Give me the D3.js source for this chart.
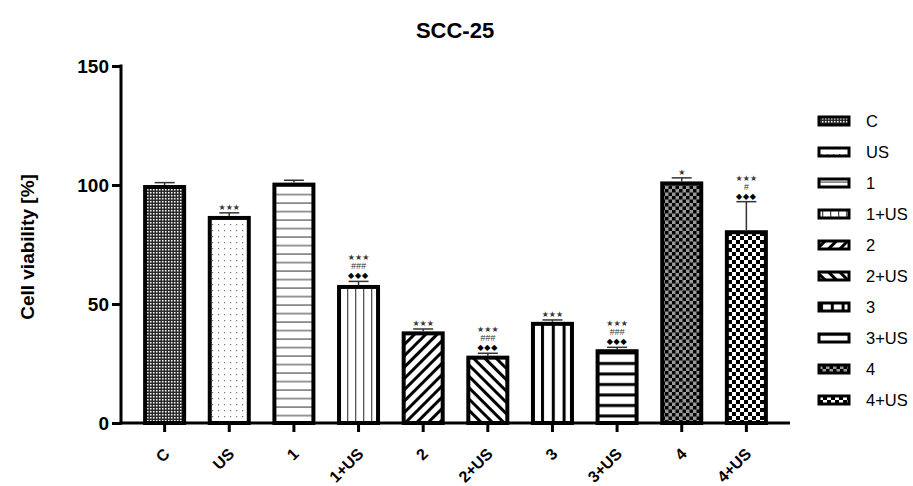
<!DOCTYPE html>
<html>
<head>
<meta charset="utf-8">
<script src="https://cdn.jsdelivr.net/npm/d3@7"></script>
<style>
  body { margin: 0; background: #fff; }
  text { font-family: "Liberation Sans", Arial, sans-serif; }
</style>
</head>
<body>
<div id="chart"></div>
<script>
// data
const groups = ["C", "US", "1", "1+US", "2", "2+US", "3", "3+US", "4", "4+US"];
const viability = [100, 87, 101, 58, 38.5, 28.3, 42.5, 31, 101.5, 81];
const sdValues = [1, 1.3, 1, 1.5, 1, 1, 0.8, 0.8, 1.5, 12];
const starMarks = ["", "***", "", "***", "***", "***", "***", "***", "*", "***"];
const hashMarks = ["", "", "", "###", "", "###", "", "###", "", "#"];
const diamondMarks = ["", "", "", "\u25C6\u25C6\u25C6", "", "\u25C6\u25C6\u25C6", "", "\u25C6\u25C6\u25C6", "", "\u25C6\u25C6\u25C6"];
const yTicks = [0, 50, 100, 150];

const W = 913, H = 486;
const svg = d3.select("#chart").append("svg")
    .attr("width", W)
    .attr("height", H);

// patterns, one per group
const defs = svg.append("defs");
function pat(id, w, h, transform) {
    const p = defs.append("pattern")
        .attr("id", id)
        .attr("patternUnits", "userSpaceOnUse")
        .attr("width", w)
        .attr("height", h);
    if (transform) p.attr("patternTransform", transform);
    return p;
}

// C: dense dark checker
let p = pat("p0", 3, 3);
p.append("rect").attr("width", 3).attr("height", 3).attr("fill", "#2a2a2a");
p.append("rect").attr("width", 1.5).attr("height", 1.5).attr("fill", "#fff");

// US: sparse dots
p = pat("p1", 6, 6);
p.append("rect").attr("width", 6).attr("height", 6).attr("fill", "#fff");
p.append("rect").attr("x", 2).attr("y", 2).attr("width", 1.2).attr("height", 1.2).attr("fill", "#777");

// 1: thin horizontal lines
p = pat("p2", 8.5, 8.5);
p.append("rect").attr("width", 8.5).attr("height", 8.5).attr("fill", "#fff");
p.append("rect").attr("y", 7).attr("width", 8.5).attr("height", 1.2).attr("fill", "#555");

// 1+US: thin vertical lines
p = pat("p3", 8, 8);
p.append("rect").attr("width", 8).attr("height", 8).attr("fill", "#fff");
p.append("rect").attr("x", 3).attr("width", 1.3).attr("height", 8).attr("fill", "#555");

// 2: thick / diagonals
p = pat("p4", 8, 8, "rotate(45)");
p.append("rect").attr("width", 8).attr("height", 8).attr("fill", "#fff");
p.append("rect").attr("width", 3).attr("height", 8).attr("fill", "#000");

// 2+US: thick \ diagonals
p = pat("p5", 8, 8, "rotate(-45)");
p.append("rect").attr("width", 8).attr("height", 8).attr("fill", "#fff");
p.append("rect").attr("width", 3).attr("height", 8).attr("fill", "#000");

// 3: thick vertical lines
p = pat("p6", 10.8, 10);
p.append("rect").attr("width", 10.8).attr("height", 10).attr("fill", "#fff");
p.append("rect").attr("x", 1).attr("width", 3).attr("height", 10).attr("fill", "#000");

// 3+US: thick horizontal lines
p = pat("p7", 10, 10.5);
p.append("rect").attr("width", 10).attr("height", 10.5).attr("fill", "#fff");
p.append("rect").attr("y", 5).attr("width", 10).attr("height", 3).attr("fill", "#000");

// 4: grey + black checkerboard
p = pat("p8", 7, 7);
p.append("rect").attr("width", 7).attr("height", 7).attr("fill", "#999");
p.append("rect").attr("width", 3.5).attr("height", 3.5).attr("fill", "#000");
p.append("rect").attr("x", 3.5).attr("y", 3.5).attr("width", 3.5).attr("height", 3.5).attr("fill", "#000");

// 4+US: white + black checkerboard
p = pat("p9", 8, 8);
p.append("rect").attr("width", 8).attr("height", 8).attr("fill", "#fff");
p.append("rect").attr("width", 4).attr("height", 4).attr("fill", "#000");
p.append("rect").attr("x", 4).attr("y", 4).attr("width", 4).attr("height", 4).attr("fill", "#000");

// scales
const x = d3.scaleBand()
    .domain(groups)
    .range([121, 790])
    .paddingInner(0.35)
    .paddingOuter(0.35);

const y = d3.scaleLinear()
    .domain([0, 150])
    .range([423, 66]);

const rows = groups.map((g, i) => ({
    g, i, v: viability[i], sd: sdValues[i],
    star: starMarks[i], hash: hashMarks[i], dia: diamondMarks[i]
}));

// bars
svg.selectAll(".bar")
    .data(rows)
    .enter()
    .append("rect")
    .attr("class", "bar")
    .attr("x", d => x(d.g) + 1.5)
    .attr("y", d => y(d.v) + 2)
    .attr("width", x.bandwidth() - 3)
    .attr("height", d => y(0) - y(d.v) - 2)
    .attr("fill", d => `url(#p${d.i})`)
    .attr("stroke", "#000")
    .attr("stroke-width", 4);

// error bars (upper only)
const cx = d => x(d.g) + x.bandwidth() / 2;
svg.selectAll(".err")
    .data(rows)
    .enter()
    .append("line")
    .attr("class", "err")
    .attr("x1", cx).attr("x2", cx)
    .attr("y1", d => y(d.v))
    .attr("y2", d => y(d.v + d.sd))
    .attr("stroke", "#333")
    .attr("stroke-width", 1.5);

svg.selectAll(".cap")
    .data(rows)
    .enter()
    .append("line")
    .attr("class", "cap")
    .attr("x1", d => cx(d) - 10).attr("x2", d => cx(d) + 10)
    .attr("y1", d => y(d.v + d.sd))
    .attr("y2", d => y(d.v + d.sd))
    .attr("stroke", "#333")
    .attr("stroke-width", 1.5);

// significance marks, stacked above the cap
const marks = svg.append("g");
rows.forEach(d => {
    const top = y(d.v + d.sd);
    const stack = [];
    if (d.dia) stack.push({ t: d.dia, kind: "dia" });
    if (d.hash) stack.push({ t: d.hash, kind: "hash" });
    if (d.star) stack.push({ t: d.star.replace(/\*/g, "\u2605"), kind: "star" });
    let off = top - 3;
    stack.forEach(s => {
        const t = marks.append("text")
            .attr("x", cx(d))
            .attr("y", off)
            .attr("text-anchor", "middle")
            .text(s.t);
        if (s.kind === "dia") {
            t.style("font-family", "DejaVu Sans").style("font-size", "8px")
                .style("letter-spacing", "0.8px").attr("fill", "#000");
            off -= 9;
        } else if (s.kind === "hash") {
            t.style("font-size", "9px").style("font-style", "italic").attr("fill", "#333");
            off -= 9;
        } else {
            t.style("font-family", "DejaVu Sans").style("font-size", "8px").attr("fill", "#3a3a3a");
        }
    });
});

// axes
const yAxis = svg.append("g")
    .attr("transform", "translate(121,0)")
    .call(d3.axisLeft(y).tickValues(yTicks).tickSize(9).tickPadding(3).tickSizeOuter(0));
yAxis.select(".domain").attr("stroke-width", 3).attr("d", `M0,${y(150) - 1.5}V${y(0) + 1.5}`);
yAxis.selectAll(".tick line").attr("stroke-width", 3);
yAxis.selectAll(".tick text")
    .style("font-family", "Liberation Sans, Arial, sans-serif")
    .style("font-size", "19px")
    .style("font-weight", "bold")
    .attr("fill", "#000");

const xAxis = svg.append("g")
    .attr("transform", `translate(0,${y(0)})`)
    .call(d3.axisBottom(x).tickSize(9).tickSizeOuter(0));
xAxis.select(".domain").attr("stroke-width", 3).attr("d", `M${121 - 1.5},0H790`);
xAxis.selectAll(".tick line").attr("stroke-width", 3);
xAxis.selectAll(".tick text")
    .style("font-family", "Liberation Sans, Arial, sans-serif")
    .style("font-size", "16px")
    .style("font-weight", "bold")
    .attr("fill", "#000")
    .attr("text-anchor", "end")
    .attr("dy", "0.35em")
    .attr("transform", "translate(2,28) rotate(-45)")
    .attr("y", 0)
    .attr("x", 0);

// title
svg.append("text")
    .attr("x", 455)
    .attr("y", 38)
    .attr("text-anchor", "middle")
    .style("font-size", "22px")
    .style("font-weight", "bold")
    .text("SCC-25");

// y label
svg.append("text")
    .attr("transform", "translate(34,247) rotate(-90)")
    .attr("text-anchor", "middle")
    .style("font-size", "19px")
    .style("font-weight", "bold")
    .text("Cell viability [%]");

// legend
const legend = svg.append("g").attr("transform", "translate(819,121)");
const item = legend.selectAll(".item")
    .data(rows)
    .enter()
    .append("g")
    .attr("class", "item")
    .attr("transform", (d, i) => `translate(0,${i * 31})`);
item.append("rect")
    .attr("x", 0).attr("y", -4)
    .attr("width", 30).attr("height", 8)
    .attr("fill", d => `url(#p${d.i})`)
    .attr("stroke", "#000")
    .attr("stroke-width", 3);
item.append("text")
    .attr("x", 47)
    .attr("dy", "0.36em")
    .style("font-size", "16.5px")
    .text(d => d.g);
</script>
</body>
</html>
